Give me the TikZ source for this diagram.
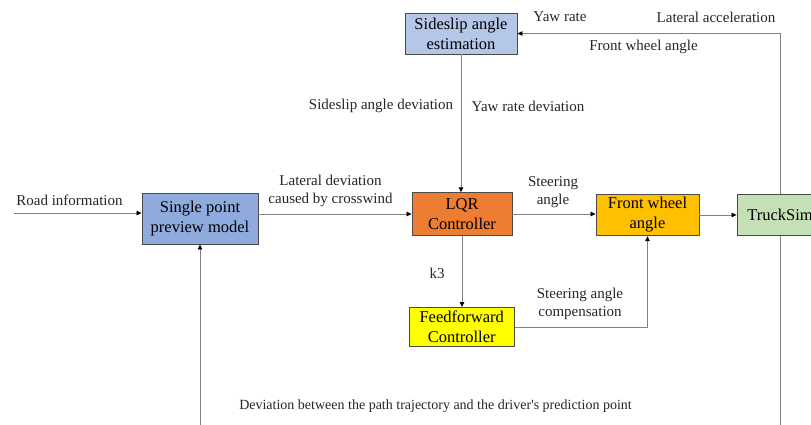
\documentclass[tikz,border=0pt]{standalone}
\usepackage{fontspec}
\setmainfont{Liberation Serif}
\usetikzlibrary{arrows.meta}
\definecolor{cSide}{HTML}{B4C7E7}
\definecolor{cSingle}{HTML}{8FAADC}
\definecolor{cLQR}{HTML}{ED7D31}
\definecolor{cFront}{HTML}{FFC000}
\definecolor{cTruck}{HTML}{C5E0B4}
\definecolor{cFF}{HTML}{FFFF00}
\definecolor{cBorder}{HTML}{4A4A4A}
\definecolor{cLine}{HTML}{808080}
\begin{document}
\begin{tikzpicture}[x=1pt,y=-1pt,
  box/.style={draw=cBorder, line width=0.9pt, inner sep=0pt, align=center,
    font=\fontsize{16.5}{20}\selectfont},
  lbl/.style={align=center, inner sep=0pt, font=\fontsize{15}{18.5}\selectfont, text=black!85},
  conn/.style={draw=cLine, line width=0.8pt, -{Triangle[length=5pt,width=4.5pt,color=black]}},
  plain/.style={draw=cLine, line width=0.8pt}
]
\useasboundingbox (0,0) rectangle (811,425);
\fill[white] (0,0) rectangle (811,425);
\clip (0,0) rectangle (811,425);

% boxes
\node[box, fill=cSide, minimum width=112pt, minimum height=41pt] (side) at (461,33.5) {Sideslip angle\\estimation};
\node[box, fill=cSingle, minimum width=116pt, minimum height=51pt] (single) at (200,218.5) {Single point\\preview model};
\node[box, fill=cLQR, minimum width=100pt, minimum height=42.5pt] (lqr) at (462,214) {LQR\\Controller};
\node[box, fill=cFront, minimum width=103pt, minimum height=41.5pt] (front) at (647.5,215) {Front wheel\\angle};
\node[box, fill=cTruck, minimum width=86pt, minimum height=41.5pt] (truck) at (780,215) {TruckSim};
\node[box, fill=cFF, minimum width=105pt, minimum height=39pt] (ff) at (461.7,327) {Feedforward\\Controller};

% labels
\node[lbl] (lyaw) at (560,17) {Yaw rate};
\node[lbl] (llat) at (716,17) {Lateral acceleration};
\node[lbl] (lfwa) at (643.5,47) {Front wheel angle};
\node[lbl] (lsad) at (381,106) {Sideslip angle deviation};
\node[lbl] (lyrd) at (528,106) {Yaw rate deviation};
\node[lbl] (lroad) at (69.5,200) {Road information};
\node[lbl] (llatdev) at (330.5,191) {Lateral deviation\\caused by crosswind};
\node[lbl] (lsteer) at (553,192) {Steering\\angle};
\node[lbl] (lk3) at (437,273) {k3};
\node[lbl] (lcomp) at (580,304) {Steering angle\\compensation};
\node[lbl, font=\fontsize{14}{17}\selectfont] (ldev) at (435.5,406.5) {Deviation between the path trajectory and the driver\textquotesingle s prediction point};

% connectors
\coordinate (road) at (14,213);
\coordinate (bot) at (780,445);
\draw[conn] (road) -- (single.west |- road);
\draw[conn] (single.east |- lqr.west) -- (lqr.west);
\draw[conn] (lqr.east) -- (front.west |- lqr.east);
\draw[conn] (front.east) -- (truck.west);
\draw[conn] (side.south) -- (side.south |- lqr.north);
\draw[conn] (lqr.south) -- (lqr.south |- ff.north);
\draw[conn] (ff.east) -| (front.south);
\draw[conn] (truck.north) |- (side.east);
\draw[conn] (truck.south) -- (bot) -| (single.south);
\end{tikzpicture}
\end{document}
